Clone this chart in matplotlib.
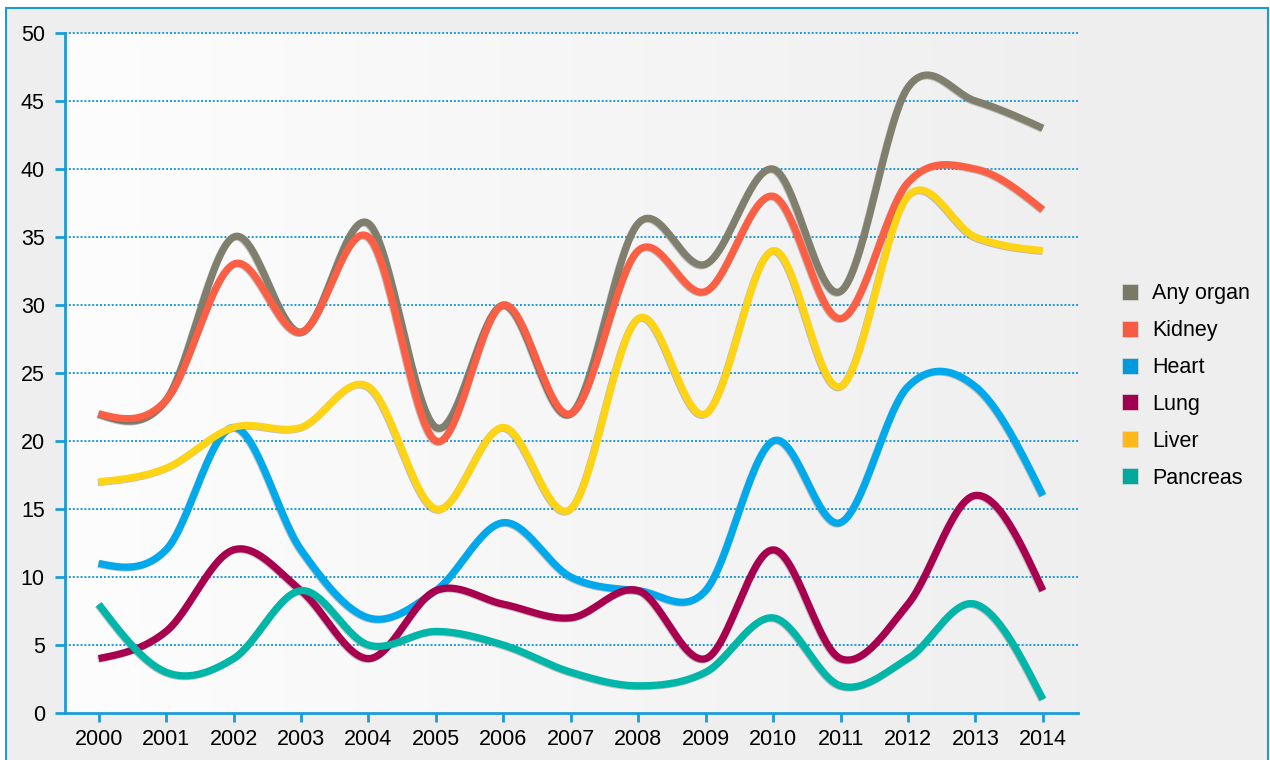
import numpy as np
import matplotlib
matplotlib.use("Agg")
import matplotlib.pyplot as plt
from matplotlib.lines import Line2D
from matplotlib.patches import Rectangle
import matplotlib.patheffects as pe

plt.rcParams['font.family'] = ['Liberation Sans', 'DejaVu Sans']

# data
years = [2000, 2001, 2002, 2003, 2004, 2005, 2006, 2007,
         2008, 2009, 2010, 2011, 2012, 2013, 2014]
any_organ = [22, 23, 35, 28, 36, 21, 30, 22, 36, 33, 40, 31, 46, 45, 43]
kidney = [22, 23, 33, 28, 35, 20, 30, 22, 34, 31, 38, 29, 39, 40, 37]
heart = [11, 12, 21, 12, 7, 9, 14, 10, 9, 9, 20, 14, 24, 24, 16]
lung = [4, 6, 12, 9, 4, 9, 8, 7, 9, 4, 12, 4, 8, 16, 9]
liver = [17, 18, 21, 21, 24, 15, 21, 15, 29, 22, 34, 24, 38, 35, 34]
pancreas = [8, 3, 4, 9, 5, 6, 5, 3, 2, 3, 7, 2, 4, 8, 1]

labels = ['Any organ', 'Kidney', 'Heart', 'Lung', 'Liver', 'Pancreas']
series = [any_organ, kidney, heart, lung, liver, pancreas]
line_colors = ['#807f6d', '#fd5f45', '#00a9ec', '#a8004f', '#ffd414', '#00b6a8']
legend_colors = ['#7a7966', '#f55c43', '#0099dd', '#a0004f', '#ffb81c', '#00a99d']

blue = '#1b9bd7'


def smooth(x, y, n=30):
    # catmull-rom through the points, natural-ish ends
    x = np.asarray(x, float)
    y = np.asarray(y, float)
    m = np.zeros_like(y)
    m[1:-1] = (y[2:] - y[:-2]) / 2
    m[0] = (3 * (y[1] - y[0]) - m[1]) / 2
    m[-1] = (3 * (y[-1] - y[-2]) - m[-2]) / 2
    xs, ys = [], []
    t = np.linspace(0, 1, n, endpoint=False)
    h00 = 2*t**3 - 3*t**2 + 1
    h10 = t**3 - 2*t**2 + t
    h01 = -2*t**3 + 3*t**2
    h11 = t**3 - t**2
    for i in range(len(x) - 1):
        xs.append(x[i] + t * (x[i+1] - x[i]))
        ys.append(h00*y[i] + h10*m[i] + h01*y[i+1] + h11*m[i+1])
    xs.append([x[-1]])
    ys.append([y[-1]])
    return np.concatenate(xs), np.concatenate(ys)


fig = plt.figure(figsize=(12.7, 7.6), dpi=100)
fig.patch.set_facecolor('white')
fig.patches.append(Rectangle((6/1270, -0.01), 1262/1270, 1 - 8/760 + 0.01,
                             transform=fig.transFigure, facecolor='#eeeeee',
                             edgecolor=blue, linewidth=1.5, zorder=-10))

ax = fig.add_axes([65/1270, 1 - 713/760, (1078-65)/1270, (713-33)/760])
ax.set_facecolor('none')

# plot area gradient
grad = np.linspace(0, 1, 256).reshape(1, -1)
ax.imshow(grad, extent=[0, 1, 0, 1], transform=ax.transAxes, aspect='auto',
          cmap=matplotlib.colors.LinearSegmentedColormap.from_list('g', ['#fdfdfd', '#efefef']),
          zorder=0)

for v in range(5, 55, 5):
    ax.axhline(v, color=blue, lw=1.4, dashes=(1, 1), zorder=1, clip_on=False)

for ys, c in zip(series, line_colors):
    sx, sy = smooth(years, ys)
    ax.plot(sx, sy, color=c, lw=5.2, solid_capstyle='butt', zorder=3,
            path_effects=[pe.SimpleLineShadow(offset=(-0.6, -0.6), shadow_color='#555555', alpha=0.35),
                          pe.Normal()])

ax.set_xlim(1999.5, 2014.52)
ax.set_ylim(0, 50)
ax.set_xticks(years)
ax.set_yticks(range(0, 55, 5))
for s in ['top', 'right']:
    ax.spines[s].set_visible(False)
for s in ['left', 'bottom']:
    ax.spines[s].set_color(blue)
    ax.spines[s].set_linewidth(2)
ax.tick_params(axis='y', colors=blue, length=7.5, width=2, pad=7, labelsize=15.5, labelcolor='black')
ax.tick_params(axis='x', colors=blue, length=6.5, width=2, pad=5, labelsize=15.5, labelcolor='black')

handles = [Line2D([], [], marker='s', ls='', ms=11, color=c, mec='#dddddd', mew=0.5)
           for c in legend_colors]
fig.legend(handles, labels, loc='center left', bbox_to_anchor=(1119.6/1270, 1 - 386/760),
           frameon=False, fontsize=15.5, borderpad=0, borderaxespad=0,
           handlelength=1.0, handletextpad=0.5, labelspacing=0.74)

fig.savefig('out.png', dpi=100, facecolor=fig.get_facecolor())
